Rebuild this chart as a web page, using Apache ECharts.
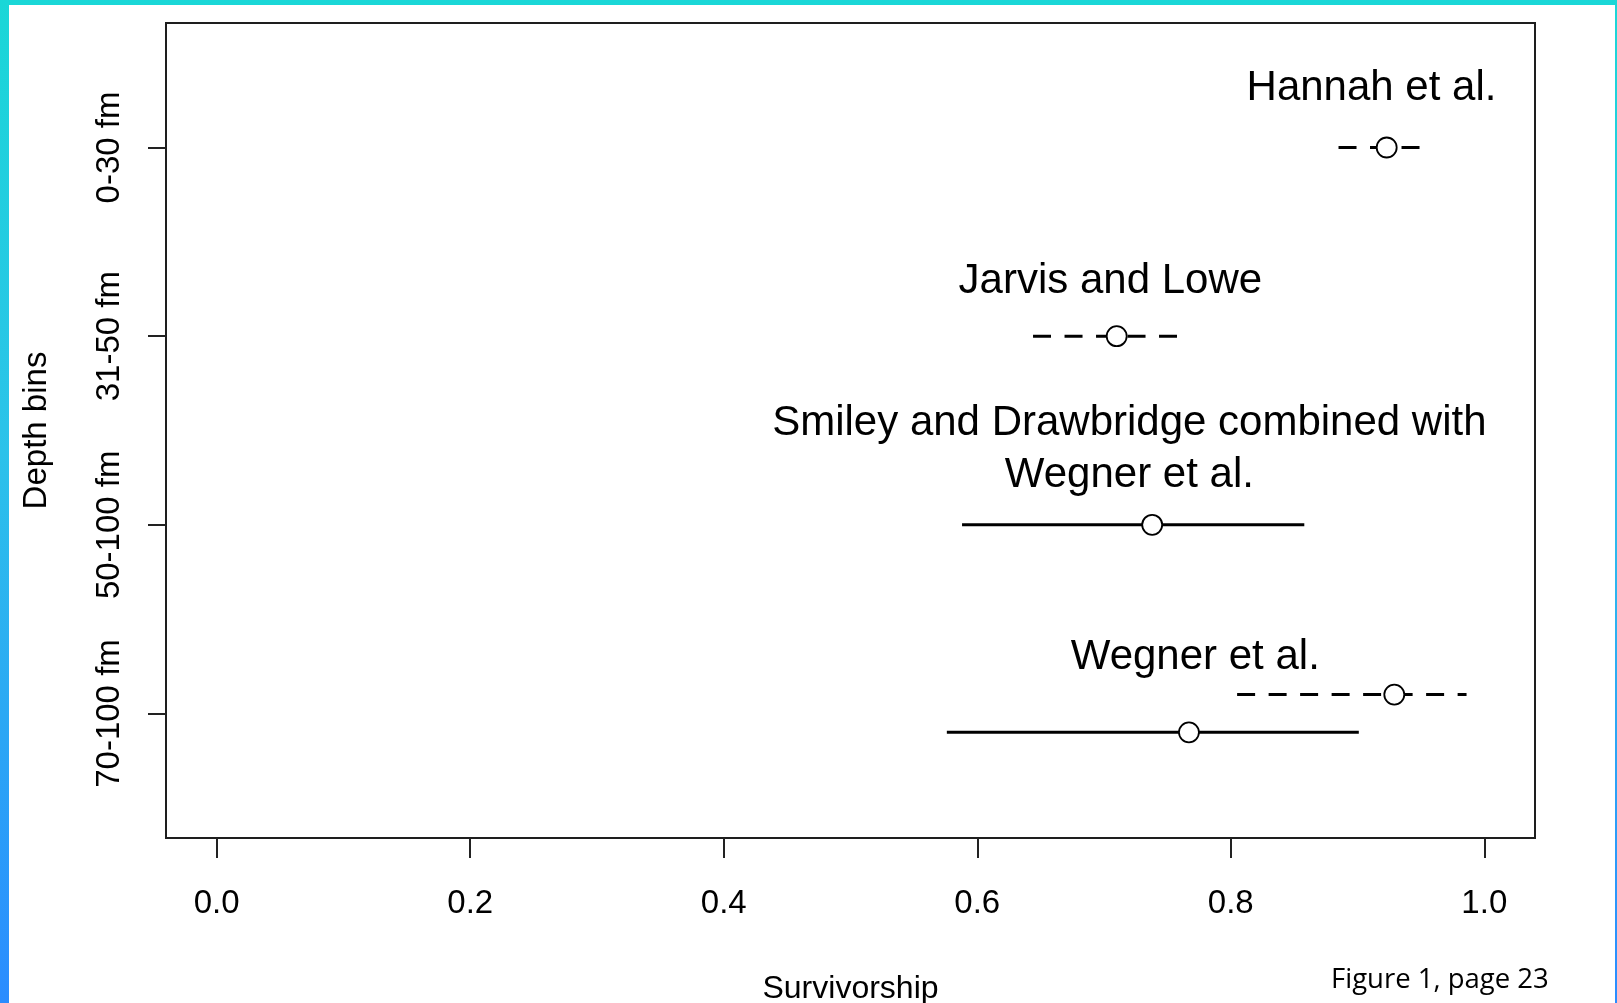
<!DOCTYPE html>
<html>
<head>
<meta charset="utf-8">
<script src="https://cdn.jsdelivr.net/npm/echarts@6/dist/echarts.min.js"></script>
<style>
  html, body { margin: 0; padding: 0; width: 1617px; height: 1003px; overflow: hidden; }
  #frame { position: absolute; left: 0; top: 0; width: 1617px; height: 1003px;
           background: linear-gradient(180deg, #1ad7d7 0%, #2cc2ea 45%, #2a8cff 100%); }
  #inner { position: absolute; left: 9px; top: 5px; width: 1606px; height: 998px; background: #fff; }
  #chart { position: absolute; left: 0; top: 0; width: 1617px; height: 1003px; }
  #caption { position: absolute; left: 1331px; top: 964px; font-family: "Open Sans", sans-serif;
             font-size: 27.5px; color: #000; white-space: nowrap; line-height: 1; }
</style>
</head>
<body>
<div id="frame"></div>
<div id="inner"></div>
<div id="chart"></div>
<div id="caption">Figure 1, page 23</div>
<script>
// ---- data ----
var depthBins = ['70-100 fm', '50-100 fm', '31-50 fm', '0-30 fm'];   // y = 1..4
var depthTicks = [1, 2, 3, 4];
var xTicks = [0, 0.2, 0.4, 0.6, 0.8, 1.0];

var rowY   = [4, 3, 2, 1.1, 0.9];
var mean   = [0.923, 0.710, 0.738, 0.929, 0.767];
var lower  = [0.885, 0.644, 0.588, 0.805, 0.576];
var upper  = [0.950, 0.760, 0.858, 0.986, 0.901];
var dashed = [true, true, false, true, false];

var noteText = ['Hannah et al.', 'Jarvis and Lowe', 'Smiley and Drawbridge combined with\nWegner et al.', 'Wegner et al.'];
var noteX = [0.911, 0.705, 0.720, 0.772];
var noteY = [4.314, 3.292, 2.40, 1.295];

var FONT = '"Liberation Sans", Arial, Helvetica, sans-serif';

var series = [];
for (var i = 0; i < rowY.length; i++) {
  series.push({
    type: 'line',
    data: [[lower[i], rowY[i]], [upper[i], rowY[i]]],
    showSymbol: false,
    symbol: 'none',
    silent: true,
    z: 2,
    lineStyle: { color: '#000', width: 3, type: dashed[i] ? [18, 13.5] : 'solid', cap: 'butt' }
  });
}
series.push({
  type: 'scatter',
  data: mean.map(function (m, i) { return [m, rowY[i]]; }),
  symbol: 'circle',
  symbolSize: 20,
  silent: true,
  z: 5,
  itemStyle: { color: '#fff', borderColor: '#000', borderWidth: 1.8, opacity: 1 }
});
series.push({
  type: 'scatter',
  data: noteText.map(function (t, i) { return { value: [noteX[i], noteY[i]], name: t }; }),
  symbolSize: 1,
  silent: true,
  z: 6,
  itemStyle: { color: 'rgba(0,0,0,0)', opacity: 1 },
  label: {
    show: true, position: 'inside', formatter: function (p) { return p.name; },
    fontFamily: FONT, fontSize: 42, color: '#000', align: 'center', verticalAlign: 'middle',
    lineHeight: 52
  }
});

var chart = echarts.init(document.getElementById('chart'), null, { renderer: 'canvas' });
chart.setOption({
  animation: false,
  backgroundColor: 'transparent',
  grid: { left: 166, top: 23, width: 1369, height: 815, show: true, outerBoundsMode: 'none',
          borderColor: '#1e1e1e', borderWidth: 2, backgroundColor: 'transparent', containLabel: false },
  xAxis: {
    type: 'value', min: -0.04, max: 1.04,
    axisLine: { show: false, onZero: false },
    splitLine: { show: false },
    axisTick: { show: true, customValues: xTicks, length: 20, lineStyle: { color: '#222', width: 2 } },
    axisLabel: { customValues: xTicks, formatter: function (v) { return v.toFixed(1); },
                 fontFamily: FONT, fontSize: 33, color: '#000', margin: 49 },
    name: 'Survivorship', nameLocation: 'middle', nameGap: 135,
    nameTextStyle: { fontFamily: FONT, fontSize: 32, color: '#000' }
  },
  yAxis: {
    type: 'value', min: 0.34, max: 4.66,
    axisLine: { show: false, onZero: false },
    splitLine: { show: false },
    axisTick: { show: true, customValues: depthTicks, length: 18, lineStyle: { color: '#222', width: 2 } },
    axisLabel: { customValues: depthTicks, rotate: 90,
                 formatter: function (v) { return depthBins[Math.round(v) - 1]; },
                 fontFamily: FONT, fontSize: 33, color: '#000', margin: 40 },
    name: 'Depth bins', nameLocation: 'middle', nameRotate: 90, nameGap: 113,
    nameTextStyle: { fontFamily: FONT, fontSize: 33, color: '#000' }
  },
  series: series
});
</script>
</body>
</html>
